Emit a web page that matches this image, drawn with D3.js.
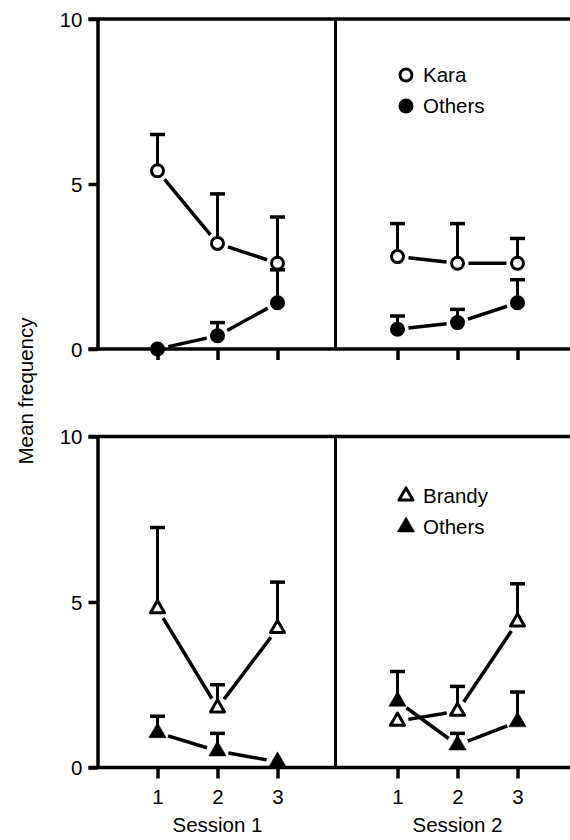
<!DOCTYPE html>
<html>
<head>
<meta charset="utf-8">
<script src="https://cdn.jsdelivr.net/npm/d3@7"></script>
<style>
  body { margin: 0; background: #fff; }
  svg text { font-family: "Liberation Sans", Arial, sans-serif; fill: #000; }
</style>
</head>
<body>
<div id="chart"></div>
<script>
// x positions within each session
const trials = [1, 2, 3];
const yTicks = [0, 5, 10];
const sessionLabels = ['Session 1', 'Session 2'];

// top panel: Kara vs others (mean, SE)
const karaS1 = [5.4, 3.2, 2.6];
const karaS1Se = [1.1, 1.5, 1.4];
const karaOthersS1 = [0, 0.4, 1.4];
const karaOthersS1Se = [0, 0.4, 1.0];
const karaS2 = [2.8, 2.6, 2.6];
const karaS2Se = [1.0, 1.2, 0.75];
const karaOthersS2 = [0.6, 0.8, 1.4];
const karaOthersS2Se = [0.4, 0.4, 0.7];

// bottom panel: Brandy vs others
const brandyS1 = [4.8, 1.8, 4.2];
const brandyS1Se = [2.45, 0.7, 1.4];
const brandyOthersS1 = [1.05, 0.5, 0.17];
const brandyOthersS1Se = [0.5, 0.53, 0];
const brandyS2 = [1.4, 1.7, 4.4];
const brandyS2Se = [0, 0.75, 1.15];
const brandyOthersS2 = [2.0, 0.68, 1.38];
const brandyOthersS2Se = [0.9, 0.35, 0.9];

const width = 570, height = 840;
const fontSize = '20.5px';
const svg = d3.select('#chart').append('svg')
  .attr('width', width)
  .attr('height', height);

const left = 97.5, divider = 335.5, right = 572;
const panelW = 240;
const x1 = d3.scaleLinear().domain([0, 4]).range([left, left + panelW]);
const x2 = d3.scaleLinear().domain([0, 4]).range([337.5, 337.5 + panelW]);

const panels = [
  {
    y: d3.scaleLinear().domain([0, 10]).range([349, 19]),
    shape: 'circle',
    series: [
      { x: x1, vals: karaS1, se: karaS1Se, open: true },
      { x: x1, vals: karaOthersS1, se: karaOthersS1Se, open: false },
      { x: x2, vals: karaS2, se: karaS2Se, open: true },
      { x: x2, vals: karaOthersS2, se: karaOthersS2Se, open: false }
    ],
    legend: ['Kara', 'Others'],
    legendY: 75,
    labels: false
  },
  {
    y: d3.scaleLinear().domain([0, 10]).range([767.5, 436.5]),
    shape: 'triangle',
    series: [
      { x: x1, vals: brandyS1, se: brandyS1Se, open: true },
      { x: x1, vals: brandyOthersS1, se: brandyOthersS1Se, open: false },
      { x: x2, vals: brandyS2, se: brandyS2Se, open: true },
      { x: x2, vals: brandyOthersS2, se: brandyOthersS2Se, open: false }
    ],
    legend: ['Brandy', 'Others'],
    legendY: 496,
    labels: true
  }
];

function marker(g, shape, open, cx, cy) {
  if (shape === 'circle') {
    g.append('circle')
      .attr('cx', cx).attr('cy', cy)
      .attr('r', open ? 6 : 7.5)
      .attr('fill', open ? '#fff' : '#000')
      .attr('stroke', '#000')
      .attr('stroke-width', open ? 3 : 0);
  } else {
    g.append('path')
      .attr('d', d3.symbol().type(d3.symbolTriangle).size(open ? 85 : 130)())
      .attr('transform', 'translate(' + cx + ',' + cy + ')')
      .attr('fill', open ? '#fff' : '#000')
      .attr('stroke', '#000')
      .attr('stroke-width', open ? 3 : 0.5)
      .attr('stroke-linejoin', 'round');
  }
}

panels.forEach(p => {
  const g = svg.append('g');
  const y = p.y;

  // frame
  g.append('line')
    .attr('x1', left - 9).attr('x2', right)
    .attr('y1', y(10)).attr('y2', y(10))
    .attr('stroke', '#000').attr('stroke-width', 3.5);
  g.append('line')
    .attr('x1', left - 9).attr('x2', right)
    .attr('y1', y(0)).attr('y2', y(0))
    .attr('stroke', '#000').attr('stroke-width', 3.5);
  g.append('line')
    .attr('x1', divider).attr('x2', divider)
    .attr('y1', y(10)).attr('y2', y(0))
    .attr('stroke', '#000').attr('stroke-width', 3);

  const yAxis = d3.axisLeft(y).tickValues(yTicks).tickSize(9).tickSizeOuter(0).tickPadding(6);
  const ya = g.append('g')
    .attr('transform', 'translate(' + left + ',0)')
    .call(yAxis);
  ya.select('.domain').attr('stroke-width', 3.5).attr('stroke', '#000');
  ya.selectAll('.tick line').attr('stroke-width', 3.5).attr('stroke', '#000');
  ya.selectAll('text').style('font-size', fontSize).attr('dy', '0.36em');

  [x1, x2].forEach((xs, i) => {
    const xAxis = d3.axisBottom(xs).tickValues(trials).tickSize(11).tickPadding(11)
      .tickFormat(p.labels ? d3.format('d') : '');
    const xa = g.append('g')
      .attr('transform', 'translate(0,' + y(0) + ')')
      .call(xAxis);
    xa.select('.domain').remove();
    xa.selectAll('.tick line').attr('stroke-width', 3.5).attr('stroke', '#000');
    xa.selectAll('text').style('font-size', fontSize);
    if (p.labels) {
      g.append('text')
        .attr('x', xs(2))
        .attr('y', 832)
        .attr('text-anchor', 'middle')
        .style('font-size', fontSize)
        .text(sessionLabels[i]);
    }
  });

  // error bars
  p.series.forEach(s => {
    s.vals.forEach((v, i) => {
      if (!s.se[i]) return;
      const cx = s.x(trials[i]);
      g.append('line')
        .attr('x1', cx).attr('x2', cx)
        .attr('y1', y(v)).attr('y2', y(v + s.se[i]))
        .attr('stroke', '#000').attr('stroke-width', 3);
      g.append('line')
        .attr('x1', cx - 7.5).attr('x2', cx + 7.5)
        .attr('y1', y(v + s.se[i])).attr('y2', y(v + s.se[i]))
        .attr('stroke', '#000').attr('stroke-width', 3.5);
    });
  });

  // connecting lines, broken near the markers
  const gap = 11;
  p.series.forEach(s => {
    for (let i = 0; i < s.vals.length - 1; i++) {
      const ax = s.x(trials[i]), ay = y(s.vals[i]);
      const bx = s.x(trials[i + 1]), by = y(s.vals[i + 1]);
      const len = Math.hypot(bx - ax, by - ay);
      const ux = (bx - ax) / len, uy = (by - ay) / len;
      g.append('line')
        .attr('x1', ax + ux * gap).attr('y1', ay + uy * gap)
        .attr('x2', bx - ux * gap).attr('y2', by - uy * gap)
        .attr('stroke', '#000').attr('stroke-width', 3.5);
    }
  });

  // markers
  p.series.forEach(s => {
    s.vals.forEach((v, i) => marker(g, p.shape, s.open, s.x(trials[i]), y(v)));
  });

  // legend
  p.legend.forEach((name, i) => {
    const ly = p.legendY + i * 31;
    marker(g, p.shape, i === 0, 406, ly);
    g.append('text')
      .attr('x', 423)
      .attr('y', ly)
      .attr('dy', '0.36em')
      .style('font-size', fontSize)
      .text(name);
  });
});

svg.append('text')
  .attr('transform', 'translate(33,391) rotate(-90)')
  .attr('text-anchor', 'middle')
  .style('font-size', fontSize)
  .text('Mean frequency');
</script>
</body>
</html>
